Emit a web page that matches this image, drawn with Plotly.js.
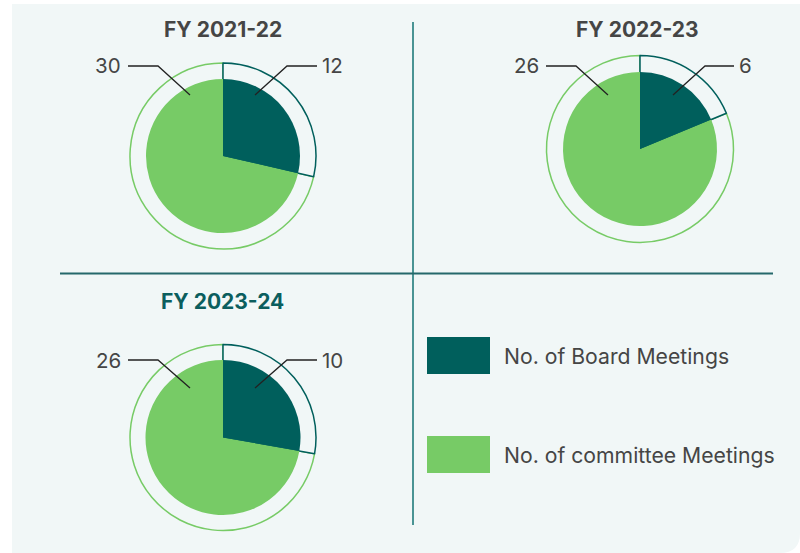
<!DOCTYPE html>
<html>
<head>
<meta charset="utf-8">
<script src="https://cdn.plot.ly/plotly-3.0.1.min.js"></script>
<style>html,body{margin:0;padding:0;background:#fff;}#chart{width:800px;height:553px;}</style>
</head>
<body>
<div id="chart"></div>
<script>
// ---- data ----
const years = ['FY 2021-22', 'FY 2022-23', 'FY 2023-24'];
const boardMeetings = [12, 6, 10];
const committeeMeetings = [30, 26, 26];
const seriesNames = ['No. of Board Meetings', 'No. of committee Meetings'];

// ---- styling / layout ----
const W = 800, H = 553;
const TEAL = '#005f5c', GREEN = '#77cb66', BG = '#f1f7f7', TXT = '#454545';
const px = x => x / W;
const py = y => 1 - y / H;

// per-chart geometry (pixels)
const geo = [
  {cx: 223, cy: 156, r: 77, R: 93, ty: 29.5, tx: 222.5, tcolor: TXT,
   ly: 66, bs: [255, 95], bb: [287, 66], be: [317, 66], gs: [190, 95], gb: [158, 66], ge: [128, 66]},
  {cx: 640, cy: 149, r: 77, R: 93.5, ty: 29.5, tx: 637, tcolor: TXT,
   ly: 66, bs: [673, 95], bb: [705, 66], be: [734, 66], gs: [608, 95], gb: [576, 66], ge: [546, 66]},
  {cx: 223, cy: 437.5, r: 77.5, R: 93, ty: 301, tx: 222, tcolor: '#0b5e5e',
   ly: 360, bs: [255, 388], bb: [287, 360], be: [317, 360], gs: [190, 388], gb: [158, 360], ge: [128, 360]}
];

const traces = [];
const shapes = [];
const annotations = [];

// panel background
shapes.push({
  type: 'path', xref: 'paper', yref: 'paper', layer: 'below',
  path: `M ${px(12)},${py(4)} L ${px(800)},${py(4)} L ${px(800)},${py(533)} Q ${px(800)},${py(553)} ${px(780)},${py(553)} L ${px(12)},${py(553)} Z`,
  fillcolor: BG, line: {width: 0}
});
// dividers
shapes.push({type: 'line', xref: 'paper', yref: 'paper', layer: 'below',
  x0: px(413), x1: px(413), y0: py(22), y1: py(525), line: {color: '#4a9494', width: 2}});
shapes.push({type: 'line', xref: 'paper', yref: 'paper', layer: 'below',
  x0: px(60), x1: px(773), y0: py(273.5), y1: py(273.5), line: {color: '#25686b', width: 2}});

years.forEach((yr, i) => {
  const g = geo[i];
  const vals = [committeeMeetings[i], boardMeetings[i]];
  const labs = [seriesNames[1], seriesNames[0]];
  // start committee slice where board slice ends, so board sits at 12 o'clock clockwise and is drawn last
  const rot = 360 * boardMeetings[i] / (boardMeetings[i] + committeeMeetings[i]);
  // outer outline ring
  traces.push({
    type: 'pie', values: vals, labels: labs, sort: false, direction: 'clockwise', rotation: rot,
    textinfo: 'none', hoverinfo: 'skip', showlegend: false,
    marker: {colors: [BG, BG], line: {color: [GREEN, TEAL], width: 1.5}},
    domain: {x: [px(g.cx - g.R), px(g.cx + g.R)], y: [py(g.cy + g.R), py(g.cy - g.R)]}
  });
  // inner filled pie
  traces.push({
    type: 'pie', values: vals, labels: labs, sort: false, direction: 'clockwise', rotation: rot,
    textinfo: 'none', hoverinfo: 'label+value', showlegend: false,
    marker: {colors: [GREEN, TEAL], line: {width: 0}},
    domain: {x: [px(g.cx - g.r), px(g.cx + g.r)], y: [py(g.cy + g.r), py(g.cy - g.r)]}
  });
  // title
  annotations.push({xref: 'paper', yref: 'paper', x: px(g.tx), y: py(g.ty), xanchor: 'center', yanchor: 'middle',
    showarrow: false, text: '<b>' + yr + '</b>', font: {family: 'Inter', size: 21, color: g.tcolor}});
  // leader lines
  [[g.bs, g.bb, g.be], [g.gs, g.gb, g.ge]].forEach(p => {
    shapes.push({type: 'path', xref: 'paper', yref: 'paper',
      path: `M ${px(p[0][0])},${py(p[0][1])} L ${px(p[1][0])},${py(p[1][1])} L ${px(p[2][0])},${py(p[2][1])}`,
      line: {color: '#222', width: 1.3}});
  });
  annotations.push({xref: 'paper', yref: 'paper', x: px(g.be[0] + 3), y: py(g.ly), xanchor: 'left', yanchor: 'middle',
    showarrow: false, text: String(boardMeetings[i]), font: {family: 'Inter', size: 20.5, color: TXT}});
  annotations.push({xref: 'paper', yref: 'paper', x: px(g.ge[0] - 5), y: py(g.ly), xanchor: 'right', yanchor: 'middle',
    showarrow: false, text: String(committeeMeetings[i]), font: {family: 'Inter', size: 20.5, color: TXT}});
});

// legend
const legendColors = [TEAL, GREEN];
const legendY = [355.5, 454.5];
seriesNames.forEach((n, k) => {
  shapes.push({type: 'rect', xref: 'paper', yref: 'paper',
    x0: px(427), x1: px(490), y0: py(legendY[k] + 18.5), y1: py(legendY[k] - 18.5),
    fillcolor: legendColors[k], line: {width: 0}});
  annotations.push({xref: 'paper', yref: 'paper', x: px(502), y: py(legendY[k]), xanchor: 'left', yanchor: 'middle',
    showarrow: false, text: n, font: {family: 'Inter', size: 21.2, color: TXT}});
});

Plotly.newPlot('chart', traces, {
  width: W, height: H, margin: {l: 0, r: 0, t: 0, b: 0},
  paper_bgcolor: '#ffffff', showlegend: false,
  shapes: shapes, annotations: annotations
}, {displayModeBar: false, staticPlot: true});
</script>
</body>
</html>
